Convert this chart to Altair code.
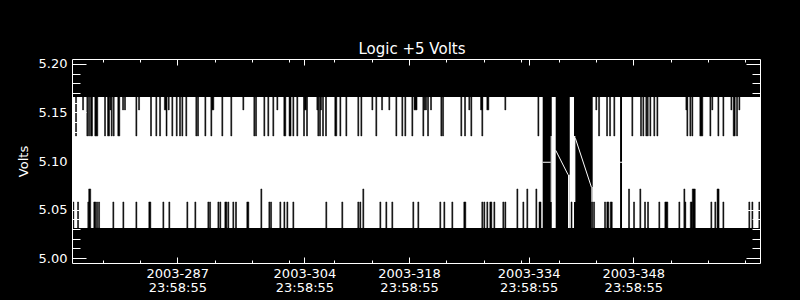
import json
import altair as alt
import pandas as pd

# ---------------- data ----------------
# x: day of year 2003 (fractional), y: volts
X_DOMAIN = [272.91, 364.95]
Y_DOMAIN = [4.995, 5.205]

ENV_LO, ENV_HI = 5.031, 5.166            # usual min / max of the dense signal
TOP_SHORT, TOP_LONG = 5.1526, 5.1258      # reduced maxima in some time bins
BOT_NORMAL, BOT_LONG = 5.0578, 5.0712     # raised minima in some time bins

# spans with data
coverage_start = [272.91, 337.09, 339.50, 342.57, 346.49]
coverage_end = [335.88, 337.62, 340.07, 346.23, 364.95]

# single partial bins at the edges of data gaps
partial_start = [336.95, 339.27, 340.07, 342.39]
partial_end = [337.09, 339.50, 340.25, 342.57]
partial_lo = [5.0578, 5.031, 5.0578, 5.031]
partial_hi = [5.1258, 5.0859, 5.1258, 5.0732]

# line segments drawn across data gaps
gap_seg = [1, 1, 2, 2, 3, 3, 4, 4]
gap_t = [335.88, 336.95, 337.62, 339.27, 340.25, 342.39, 346.23, 346.49]
gap_v = [5.0987, 5.0987, 5.1110, 5.0859, 5.1234, 5.0732, 5.0987, 5.0987]

# (day, duration in days) of bins whose max / min differ from the usual
top_long = [
    (273.45, .134), (274.96, .134), (275.19, .134), (275.52, .27), (276.16, .40), (277.33, .134),
    (277.80, .27), (278.22, .134), (278.49, .134), (279.17, .27), (281.52, .134), (283.48, .134),
    (284.19, .134), (284.69, .134), (285.56, .134), (286.33, .134), (286.92, .134), (287.36, .134),
    (287.67, .134), (288.20, .134), (289.54, .134), (289.77, .134), (290.75, .134), (291.55, .134),
    (293.02, .134), (294.22, .134), (297.30, .134), (297.53, .134), (298.64, .134), (299.17, .134),
    (299.84, .134), (301.38, .27), (302.08, .27), (302.52, .134), (303.05, .134), (303.95, .134),
    (304.35, .134), (305.86, .134), (306.09, .134), (306.49, .134), (306.89, .134), (308.20, .27),
    (308.81, .134), (309.61, .134), (311.21, .134), (311.62, .134), (313.62, .134), (316.30, .134),
    (317.10, .134), (317.50, .134), (318.44, .134), (319.91, .134), (320.54, .134), (322.32, .134),
    (322.55, .134), (324.99, .134), (325.49, .134), (326.33, .134), (327.80, .134), (335.30, .134),
    (343.42, .134), (344.49, .134), (344.89, .134), (345.46, .134), (347.87, .134), (349.03, .134),
    (349.34, .134), (349.74, .134), (349.93, .134), (350.28, .134), (350.81, .134), (351.22, .134),
    (355.23, .134), (355.63, .134), (355.90, .134), (357.10, .40), (358.31, .134), (359.38, .134),
    (360.05, .134), (361.50, .27), (361.88, .134),
]
top_short = [
    (274.39, .134), (278.04, .134), (279.74, .134), (280.00, .134), (281.88, .134), (285.40, .27),
    (285.85, .134), (291.75, .27), (295.83, .134), (300.38, .134), (304.12, .27), (305.73, .134),
    (306.22, .134), (313.09, .134), (314.39, .134), (315.36, .134), (318.87, .40), (320.10, .134),
    (320.27, .134), (320.94, .134), (326.06, .134), (327.70, .27), (328.54, .27), (330.88, .134),
    (343.05, .134), (355.10, .134), (358.57, .134), (361.12, .134), (362.19, .134),
]
bot_normal = [
    (273.09, .134), (273.72, .134), (275.09, .134), (275.96, .27), (276.26, .134), (276.53, .134),
    (278.44, .134), (279.78, .134), (281.52, .134), (283.32, .27), (285.13, .134), (285.93, .134),
    (288.34, .134), (289.41, .134), (291.15, .134), (291.38, .134), (292.49, .134), (292.75, .134),
    (293.49, .27), (293.82, .134), (294.49, .134), (294.85, .134), (296.43, .27), (299.31, .134),
    (299.54, .134), (300.78, .134), (301.32, .134), (301.72, .134), (302.52, .134), (306.93, .134),
    (309.07, .134), (311.21, .134), (311.48, .134), (314.16, .134), (314.96, .134), (315.76, .134),
    (318.57, .134), (319.24, .134), (322.18, .134), (322.72, .134), (323.79, .134), (325.46, .27),
    (327.80, .134), (328.07, .134), (328.47, .134), (328.94, .27), (329.41, .134), (330.61, .134),
    (330.88, .134), (333.29, .134), (335.52, .27), (339.74, .134), (342.48, .134), (342.75, .134),
    (344.22, .134), (344.59, .27), (345.05, .27), (348.10, .134), (349.57, .134), (349.97, .134),
    (351.48, .134), (352.42, .40), (354.16, .134), (354.96, .134), (355.76, .27), (358.44, .134),
    (358.97, .134), (360.05, .134), (363.52, .134), (363.93, .134), (364.86, .134),
]
bot_long = [
    (275.28, .27), (298.24, .134), (311.88, .134), (332.49, .134), (333.82, .134), (335.03, .134),
    (347.43, .134), (348.94, .134), (354.83, .134), (356.09, .40), (359.34, .27),
]

# axis ticks and labels
x_label_days = [287, 304, 318, 334, 348]
x_label_text = [["2003-287", "23:58:55"], ["2003-304", "23:58:55"], ["2003-318", "23:58:55"],
                ["2003-334", "23:58:55"], ["2003-348", "23:58:55"]]
x_minor_days = [277, 282, 287, 292, 297, 302, 308, 313, 318, 323, 328, 333, 338, 343,
                348, 353, 358, 363]
y_label_values = [5.00, 5.05, 5.10, 5.15, 5.20]
y_minor_values = [5.00, 5.01, 5.02, 5.03, 5.04, 5.05, 5.06, 5.07, 5.08, 5.09, 5.10,
                  5.11, 5.12, 5.13, 5.14, 5.15, 5.16, 5.17, 5.18, 5.19, 5.20]

TITLE = "Logic +5 Volts"
Y_TITLE = "Volts"

# ---------------- tables ----------------
env_df = pd.DataFrame({"t0": coverage_start, "t1": coverage_end,
                       "lo": ENV_LO, "hi": ENV_HI})
part_df = pd.DataFrame({"t0": partial_start, "t1": partial_end,
                        "lo": partial_lo, "hi": partial_hi})
rows = []
for lst, lo, hi in [(top_long, TOP_LONG, ENV_HI), (top_short, TOP_SHORT, ENV_HI),
                    (bot_normal, ENV_LO, BOT_NORMAL), (bot_long, ENV_LO, BOT_LONG)]:
    for d, w in lst:
        rows.append({"t0": d - w / 2, "t1": d + w / 2, "lo": lo, "hi": hi})
notch_df = pd.DataFrame(rows)
gap_df = pd.DataFrame({"seg": gap_seg, "t": gap_t, "v": gap_v})
frame_df = pd.DataFrame({"t": X_DOMAIN, "v": Y_DOMAIN})

W, H = 688, 204
FONT = "DejaVu Sans"
xs = alt.Scale(domain=X_DOMAIN, nice=False, zero=False)
ys = alt.Scale(domain=Y_DOMAIN, nice=False, zero=False)

x_all_ticks = sorted(set(x_minor_days) | set(x_label_days))
x_tick_size = {"condition": {"test": f"indexof({json.dumps(x_label_days)}, datum.value) >= 0",
                             "value": 6}, "value": 3}
y_tick_size = {"condition": {"test": "abs(datum.value*20 - round(datum.value*20)) < 0.01",
                             "value": 14}, "value": 8}
label_expr = f"{json.dumps(x_label_text)}[indexof({json.dumps(x_label_days)}, datum.value)]"

ax_x_main = alt.Axis(orient="bottom", values=x_label_days, labelExpr=label_expr, ticks=False,
                     domain=True, domainColor="white", domainWidth=1, grid=False,
                     labelColor="white", labelFont=FONT, labelFontSize=13, labelPadding=4,
                     labelLineHeight=14, labelAngle=0, labelFlush=False, labelOverlap=False,
                     zindex=1)
ax_y_main = alt.Axis(orient="left", values=y_label_values, format=".2f", ticks=False,
                     domain=True, domainColor="white", domainWidth=1, grid=False,
                     labelColor="white", labelFont=FONT, labelFontSize=13, labelPadding=5,
                     labelOverlap=False, title=Y_TITLE, titleColor="white", titleFont=FONT,
                     titleFontSize=13, titleFontWeight="normal", titlePadding=8, zindex=1)


def tick_axis(orient, offset, values, size, domain):
    return alt.Axis(orient=orient, offset=offset, values=values, labels=False, ticks=True,
                    tickColor="white", tickWidth=1, tickSize=size, domain=domain,
                    domainColor="white", domainWidth=1, grid=False, title=None, zindex=1)


env = alt.Chart(env_df).mark_rect(color="white").encode(
    x=alt.X("t0:Q", scale=xs, axis=ax_x_main, title=None), x2="t1",
    y=alt.Y("lo:Q", scale=ys, axis=ax_y_main), y2="hi")
part = alt.Chart(part_df).mark_rect(color="white").encode(
    x=alt.X("t0:Q", scale=xs, axis=None), x2="t1",
    y=alt.Y("lo:Q", scale=ys, axis=None), y2="hi")
notch = alt.Chart(notch_df).mark_rect(color="black", stroke="black", strokeWidth=0.5).encode(
    x=alt.X("t0:Q", scale=xs, axis=None), x2="t1",
    y=alt.Y("lo:Q", scale=ys, axis=None), y2="hi")
gaps = alt.Chart(gap_df).mark_line(color="white", strokeWidth=1).encode(
    x=alt.X("t:Q", scale=xs, axis=None),
    y=alt.Y("v:Q", scale=ys, axis=None),
    detail="seg:N")
# inward ticks on the bottom and left edges
ticks_bl = alt.Chart(frame_df).mark_point(opacity=0, size=1).encode(
    x=alt.X("t:Q", scale=xs, axis=tick_axis("top", -H, x_all_ticks, x_tick_size, False)),
    y=alt.Y("v:Q", scale=ys, axis=tick_axis("right", -W, y_minor_values, y_tick_size, False)))
# inward ticks on the top and right edges (with the frame lines)
ticks_tr = alt.Chart(frame_df).mark_point(opacity=0, size=1).encode(
    x=alt.X("t:Q", scale=xs, axis=tick_axis("bottom", -H, x_all_ticks, x_tick_size, True)),
    y=alt.Y("v:Q", scale=ys, axis=tick_axis("left", -W, y_minor_values, y_tick_size, True)))

chart = alt.layer(env, part, notch, gaps, ticks_bl, ticks_tr).resolve_axis(
    x="independent", y="independent"
).properties(
    width=W, height=H,
    padding={"left": 72, "top": 59, "right": 40, "bottom": 37},
    autosize=alt.AutoSizeParams(type="none"),
    background="black",
    title=alt.TitleParams(TITLE, color="white", font=FONT, fontSize=15, fontWeight="normal",
                          anchor="middle", offset=4, baseline="bottom", frame="group",
                          dx=-4, dy=18),
).configure_view(stroke="transparent")

chart.save("out.html", embed_options={"renderer": "svg", "actions": False})
